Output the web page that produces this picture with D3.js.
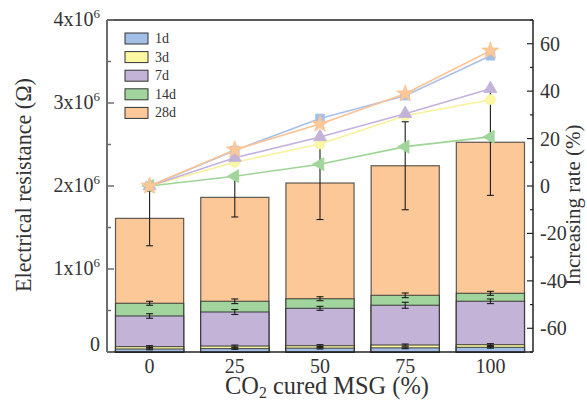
<!DOCTYPE html>
<html>
<head>
<meta charset="utf-8">
<script src="https://cdn.jsdelivr.net/npm/d3@7"></script>
<style>
  body { margin: 0; background: #fff; }
  svg { font-family: "Liberation Serif", "Times New Roman", serif; }
</style>
</head>
<body>
<svg id="chart" width="587" height="405"></svg>
<script>
// CO2 cured MSG content (%) on the x axis
const categories = ["0", "25", "50", "75", "100"];
const ages = ["1d", "3d", "7d", "14d", "28d"];

// electrical resistance (ohm), one bar per age, drawn from zero and overlapped
const res1d  = [36000, 41400, 46300, 49700, 55800];
const res3d  = [65000, 71500, 76500, 84200, 88700];
const res7d  = [434000, 482000, 526000, 563000, 611000];
const res14d = [587000, 611000, 642000, 683000, 707000];
const res28d = [1610000, 1863000, 2036000, 2244000, 2527000];

const err1d  = [10000, 10000, 10000, 10000, 10000];
const err3d  = [12000, 12000, 12000, 12000, 12000];
const err7d  = [28000, 30000, 24000, 36000, 28000];
const err14d = [24000, 28000, 24000, 28000, 24000];
const err28d = [330000, 236000, 440000, 530000, 640000];

// increasing rate (%) relative to 0 %
const rate1d  = [0, 15.0, 28.5, 38.1, 54.9];
const rate3d  = [0, 10.0, 17.7, 29.6, 36.4];
const rate7d  = [0, 11.9, 20.7, 30.5, 41.0];
const rate14d = [0, 4.1, 9.2, 16.6, 20.7];
const rate28d = [0, 15.3, 26.1, 38.9, 57.0];

const leftTicks = [0, 1e6, 2e6, 3e6, 4e6];
const rightTicks = [-60, -40, -20, 0, 20, 40, 60];

const series = [
  { name: ages[0], res: res1d,  err: err1d,  rate: rate1d,  fill: "#a3bfe8", line: "#a7c1ea", symbol: d3.symbolSquare, rot: 0, size: 75 },
  { name: ages[1], res: res3d,  err: err3d,  rate: rate3d,  fill: "#fbf7a3", line: "#f8f29a", symbol: d3.symbolCircle, rot: 0, size: 75 },
  { name: ages[2], res: res7d,  err: err7d,  rate: rate7d,  fill: "#c2b3d7", line: "#c3b2de", symbol: d3.symbolTriangle, rot: 0, size: 75 },
  { name: ages[3], res: res14d, err: err14d, rate: rate14d, fill: "#a2d49d", line: "#9ed596", symbol: d3.symbolTriangle, rot: -90, size: 75 },
  { name: ages[4], res: res28d, err: err28d, rate: rate28d, fill: "#fdc897", line: "#fcc292", symbol: d3.symbolStar, rot: 0, size: 90 }
];

const svg = d3.select("#chart");
const margin = { top: 20, right: 54, bottom: 53, left: 107 };
const width = 587, height = 405;
const innerWidth = width - margin.left - margin.right;
const innerHeight = height - margin.top - margin.bottom;

const g = svg.append("g").attr("transform", `translate(${margin.left},${margin.top})`);

const x = d3.scaleBand().domain(categories).range([0, innerWidth]).paddingInner(0.2).paddingOuter(0.1);
const y = d3.scaleLinear().domain([0, 4e6]).range([innerHeight, 0]);
const y2 = d3.scaleLinear().domain([-70, 70]).range([innerHeight, 0]);

// shrink or grow a title so it spans the same length as in the reference
function fitText(sel, target) {
  const len = sel.node().getComputedTextLength();
  const fs = +sel.attr("font-size");
  sel.attr("font-size", (fs * target / len).toFixed(2));
}

// bars, biggest at the back
series.slice().reverse().forEach(s => {
  g.append("g").selectAll("rect")
    .data(s.res)
    .join("rect")
    .attr("x", (d, i) => x(categories[i]))
    .attr("y", d => y(d))
    .attr("width", x.bandwidth())
    .attr("height", d => innerHeight - y(d))
    .attr("fill", s.fill)
    .attr("stroke", "#2a2a2a")
    .attr("stroke-opacity", 0.75)
    .attr("stroke-width", 1.2);
});

// error bars
series.forEach(s => {
  const eg = g.append("g").attr("stroke", "#1a1a1a").attr("stroke-width", 1.1);
  s.res.forEach((v, i) => {
    const cx = x(categories[i]) + x.bandwidth() / 2;
    const top = y(v + s.err[i]), bot = y(v - s.err[i]);
    eg.append("line").attr("x1", cx).attr("x2", cx).attr("y1", top).attr("y2", bot);
    eg.append("line").attr("x1", cx - 3.5).attr("x2", cx + 3.5).attr("y1", top).attr("y2", top);
    eg.append("line").attr("x1", cx - 3.5).attr("x2", cx + 3.5).attr("y1", bot).attr("y2", bot);
  });
});

// rate lines
const line = d3.line()
  .x((d, i) => x(categories[i]) + x.bandwidth() / 2)
  .y(d => y2(d));

series.forEach(s => {
  g.append("path")
    .attr("d", line(s.rate))
    .attr("fill", "none")
    .attr("stroke", s.line)
    .attr("stroke-width", 1.6);
});
series.forEach(s => {
  g.append("g").selectAll("path")
    .data(s.rate)
    .join("path")
    .attr("transform", (d, i) => `translate(${x(categories[i]) + x.bandwidth() / 2},${y2(d)}) rotate(${s.rot})`)
    .attr("d", d3.symbol().type(s.symbol).size(s.size))
    .attr("fill", s.fill)
    .attr("stroke", s.line)
    .attr("stroke-width", 0.8);
});

// frame
g.append("line").attr("x1", 0).attr("x2", innerWidth).attr("y1", 0).attr("y2", 0)
  .attr("stroke", "#222").attr("stroke-width", 1.3);
g.append("line").attr("x1", 0).attr("x2", innerWidth).attr("y1", innerHeight).attr("y2", innerHeight)
  .attr("stroke", "#222").attr("stroke-width", 1.3);

// left axis
const la = g.append("g");
la.append("line").attr("x1", 0).attr("x2", 0).attr("y1", 0).attr("y2", innerHeight)
  .attr("stroke", "#6e6e6e").attr("stroke-width", 2);
d3.range(0, 4.01e6, 0.5e6).forEach(v => {
  const major = Math.abs(v % 1e6) < 1;
  la.append("line").attr("x1", 0).attr("x2", major ? 7 : 4).attr("y1", y(v)).attr("y2", y(v))
    .attr("stroke", "#6e6e6e").attr("stroke-width", 1.5);
});
leftTicks.forEach(v => {
  const t = la.append("text")
    .attr("x", -7).attr("y", y(v)).attr("dy", "0.3em")
    .attr("text-anchor", "end").attr("font-size", 20).attr("fill", "#333");
  if (v === 0) { t.attr("dy", "-0.05em").text("0"); return; }
  t.append("tspan").text(`${v / 1e6}x10`);
  t.append("tspan").attr("font-size", 13).attr("dy", -8).text("6");
});

// right axis
const ra = g.append("g").attr("transform", `translate(${innerWidth},0)`);
ra.append("line").attr("x1", 0).attr("x2", 0).attr("y1", 0).attr("y2", innerHeight)
  .attr("stroke", "#222").attr("stroke-width", 1.5);
d3.range(-70, 70.1, 10).forEach(v => {
  const major = v % 20 === 0;
  ra.append("line").attr("x1", 0).attr("x2", major ? -6 : -3).attr("y1", y2(v)).attr("y2", y2(v))
    .attr("stroke", "#222").attr("stroke-width", 1.2);
});
rightTicks.forEach(v => {
  ra.append("text")
    .attr("x", 7).attr("y", y2(v)).attr("dy", "0.35em")
    .attr("font-size", 20).attr("fill", "#333")
    .text(v < 0 ? `-${-v}` : v);
});

// x tick labels
categories.forEach(c => {
  g.append("text")
    .attr("x", x(c) + x.bandwidth() / 2).attr("y", innerHeight + 21)
    .attr("text-anchor", "middle").attr("font-size", 20).attr("fill", "#333")
    .text(c);
});

// axis titles
const xt = svg.append("text")
  .attr("x", 327).attr("y", 394)
  .attr("text-anchor", "middle").attr("font-size", 20).attr("fill", "#333");
xt.append("tspan").text("CO");
xt.append("tspan").attr("font-size", 13).attr("dy", 4).text("2");
xt.append("tspan").attr("dy", -4).text(" cured MSG (%)");
fitText(xt, 204);
xt.selectAll("tspan").filter((d, i) => i === 1).attr("font-size", (+xt.attr("font-size") * 0.65).toFixed(2));

const lt = svg.append("text")
  .attr("transform", "translate(31,185) rotate(-90)")
  .attr("text-anchor", "middle").attr("font-size", 20).attr("fill", "#333")
  .text("Electrical resistance (Ω)");
fitText(lt, 214);

svg.append("text")
  .attr("transform", "translate(580,205) rotate(-90)")
  .attr("text-anchor", "middle").attr("font-size", 21).attr("fill", "#333")
  .text("Increasing rate (%)");

// legend
const legend = svg.append("g").attr("transform", "translate(125,33)");
series.forEach((s, i) => {
  const row = legend.append("g").attr("transform", `translate(0,${i * 18.6})`);
  row.append("rect").attr("width", 23).attr("height", 11)
    .attr("fill", s.fill).attr("stroke", "#333").attr("stroke-width", 1);
  row.append("text").attr("x", 30).attr("y", 10).attr("font-size", 14).attr("fill", "#333")
    .text(s.name);
});
</script>
</body>
</html>
